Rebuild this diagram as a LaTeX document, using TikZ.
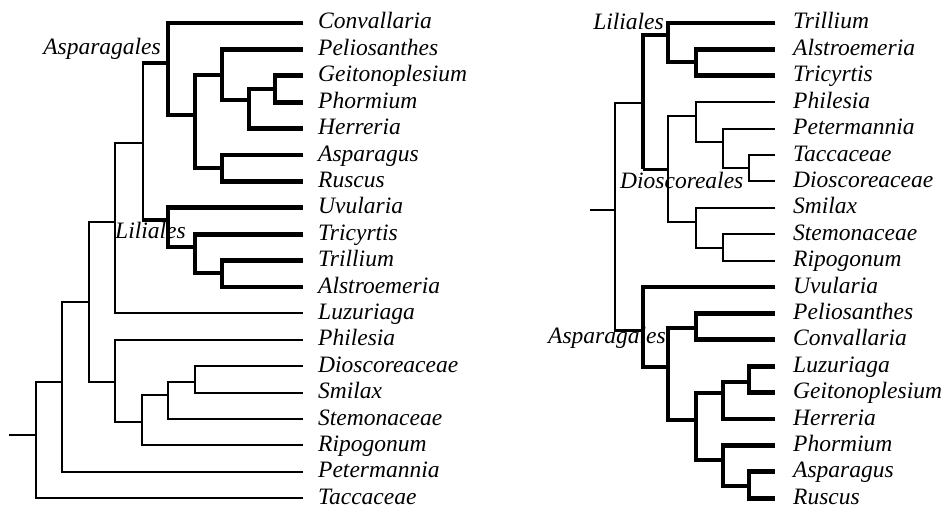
\documentclass[tikz,border=0pt]{standalone}
\usepackage{fontspec}
\setmainfont{Liberation Serif}

\begin{document}
\begin{tikzpicture}[x=1pt, y=-1pt,
    taxon/.style={anchor=west, inner xsep=15pt, inner ysep=0pt, text height=13pt, text depth=1pt,
      font=\fontsize{23.5}{28}\selectfont\itshape},
    clade/.style={inner sep=0pt, font=\fontsize{23.5}{28}\selectfont\itshape},
    thinbr/.style={line width=1.9pt},
    midbr/.style={line width=3pt},
    thickbr/.style={line width=4.8pt}]
        \useasboundingbox (0,0) rectangle (945,508);

        % Left tree: leaves
        \foreach \t [count=\i from 0] in {Convallaria,Peliosanthes,Geitonoplesium,Phormium,%
          Herreria,Asparagus,Ruscus,Uvularia,Tricyrtis,Trillium,Alstroemeria,Luzuriaga,%
          Philesia,Dioscoreaceae,Smilax,Stemonaceae,Ripogonum,Petermannia,Taccaceae}
          \node[taxon] (L\t) at (303, 23+26.4*\i) {\t};

        % Left tree: inner nodes
        \coordinate (lstub) at (9,435);
        \coordinate (lroot) at (36,435);
        \coordinate (lmp) at (62,382);
        \coordinate (lmono) at (89,302);
        \coordinate (lalz) at (115,222);
        \coordinate (lal) at (143,143);
        \coordinate (lasp) at (168,63);
        \coordinate (lpa) at (195,115);
        \coordinate (lpel) at (222,75);
        \coordinate (lgph) at (249,100);
        \coordinate (lgp) at (275,89);
        \coordinate (lar) at (222,168);
        \coordinate (llil) at (168,220);
        \coordinate (ltt) at (195,247);
        \coordinate (lta) at (222,273);
        \coordinate (lphd) at (115,382);
        \coordinate (ldsr) at (142,422);
        \coordinate (ldss) at (168,395);
        \coordinate (lds) at (195,382);

        \node[clade, anchor=base east] (lAsparagales) at (161,55) {Asparagales};
        \node[clade, anchor=base west] (lLiliales) at (115,238) {Liliales};

        % Left tree: Asparagales and Liliales
        \draw[thickbr] (LGeitonoplesium.west) -| (lgp) |- (LPhormium.west);
        \draw[thickbr] (lgp) -| (lgph) |- (LHerreria.west);
        \draw[thickbr] (LPeliosanthes.west) -| (lpel) |- (lgph);
        \draw[thickbr] (LAsparagus.west) -| (lar) |- (LRuscus.west);
        \draw[thickbr] (lpel) -| (lpa) |- (lar);
        \draw[thickbr] (LConvallaria.west) -| (lasp) |- (lpa);
        \draw[thickbr] (LTrillium.west) -| (lta) |- (LAlstroemeria.west);
        \draw[thickbr] (LTricyrtis.west) -| (ltt) |- (lta);
        \draw[thickbr] (LUvularia.west) -| (llil) |- (ltt);
        \draw[thinbr] (lasp -| lal) -- (llil -| lal);
        \draw[thickbr] ([xshift=-0.9pt]lasp -| lal) -- (lasp) ([xshift=-0.9pt]llil -| lal) -- (llil);

        % Left tree: the rest
        \draw[thinbr] (lal) -| (lalz) |- (LLuzuriaga.west);
        \draw[thinbr] (LDioscoreaceae.west) -| (lds) |- (LSmilax.west);
        \draw[thinbr] (lds) -| (ldss) |- (LStemonaceae.west);
        \draw[thinbr] (ldss) -| (ldsr) |- (LRipogonum.west);
        \draw[thinbr] (LPhilesia.west) -| (lphd) |- (ldsr);
        \draw[thinbr] (lalz) -| (lmono) |- (lphd);
        \draw[thinbr] (lmono) -| (lmp) |- (LPetermannia.west);
        \draw[thinbr] (lmp) -| (lroot) |- (LTaccaceae.west);
        \draw[thinbr] (lstub) -- (lroot);

        % Right tree: leaves
        \foreach \t [count=\i from 0] in {Trillium,Alstroemeria,Tricyrtis,Philesia,Petermannia,%
          Taccaceae,Dioscoreaceae,Smilax,Stemonaceae,Ripogonum,Uvularia,Peliosanthes,%
          Convallaria,Luzuriaga,Geitonoplesium,Herreria,Phormium,Asparagus,Ruscus}
          \node[taxon, inner xsep=18pt] (R\t) at (775, 23+26.4*\i) {\t};

        % Right tree: inner nodes
        \coordinate (rstub) at (590,210);
        \coordinate (rroot) at (615,210);
        \coordinate (rld) at (643,103);
        \coordinate (rlil) at (668,35);
        \coordinate (rat) at (696,62);
        \coordinate (rdio) at (668,169);
        \coordinate (rpp) at (696,116);
        \coordinate (rptd) at (723,142);
        \coordinate (rtd) at (749,168);
        \coordinate (rssr) at (696,222);
        \coordinate (rsr) at (723,248);
        \coordinate (rasp) at (643,330);
        \coordinate (rpch) at (668,367);
        \coordinate (rpc) at (696,328);
        \coordinate (rhp) at (696,420);
        \coordinate (rlgh) at (723,393);
        \coordinate (rlg) at (749,382);
        \coordinate (rpas) at (723,460);
        \coordinate (ras) at (749,486);

        \node[clade, anchor=base east] (rLiliales) at (664,30) {Liliales};
        \node[clade, anchor=base west] (rDioscoreales) at (620,188) {Dioscoreales};
        \node[clade, anchor=base west] (rAsparagales) at (548,343) {Asparagales};

        % Right tree: Liliales and Dioscoreales
        \draw[thickbr] (RAlstroemeria.west) -| (rat) |- (RTricyrtis.west);
        \draw[thickbr] (RTrillium.west) -| (rlil) |- (rat);
        \draw[thickbr] (rlil) -| (rld) -- (rld |- rdio);
        \draw[midbr] (rld |- rdio) -- (rdio);
        \draw[thinbr] (RTaccaceae.west) -| (rtd) |- (RDioscoreaceae.west);
        \draw[thinbr] (RPetermannia.west) -| (rptd) |- (rtd);
        \draw[thinbr] (RPhilesia.west) -| (rpp) |- (rptd);
        \draw[thinbr] (RStemonaceae.west) -| (rsr) |- (RRipogonum.west);
        \draw[thinbr] (RSmilax.west) -| (rssr) |- (rsr);
        \draw[thinbr] (rpp) -| (rdio) |- (rssr);

        % Right tree: root
        \draw[thinbr] (rld) -| (rroot) -- (rroot |- rasp);
        \draw[thinbr] (rstub) -- (rroot);
        \draw[midbr] ([xshift=-0.9pt]rroot |- rasp) -- (rasp);

        % Right tree: Asparagales
        \draw[thickbr] (RPeliosanthes.west) -| (rpc) |- (RConvallaria.west);
        \draw[thickbr] (RLuzuriaga.west) -| (rlg) |- (RGeitonoplesium.west);
        \draw[thickbr] (rlg) -| (rlgh) |- (RHerreria.west);
        \draw[thickbr] (RAsparagus.west) -| (ras) |- (RRuscus.west);
        \draw[thickbr] (RPhormium.west) -| (rpas) |- (ras);
        \draw[thickbr] (rlgh) -| (rhp) |- (rpas);
        \draw[thickbr] (rpc) -| (rpch) |- (rhp);
        \draw[thickbr] (RUvularia.west) -| (rasp) |- (rpch);
      \end{tikzpicture}
\end{document}
